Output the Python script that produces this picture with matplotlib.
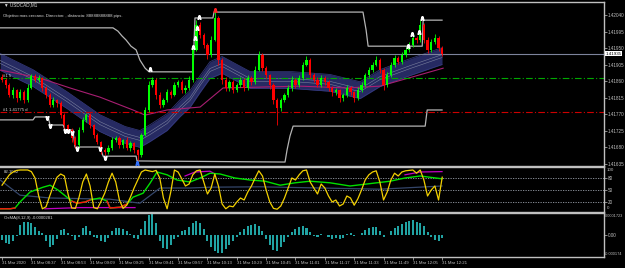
import numpy as np
import matplotlib
matplotlib.use('Agg')
import matplotlib.pyplot as plt
import matplotlib.transforms as mtransforms

plt.rcParams['font.family'] = ['Liberation Sans', 'DejaVu Sans']

# ---------------- DATA ----------------
first_open = 1.41870
close_prices = [
    1.41863, 1.41849, 1.41822, 1.41835, 1.41814, 1.41830, 1.41808, 1.41841, 1.41874, 1.41863,
    1.41868, 1.41841, 1.41822, 1.41795, 1.41808, 1.41800, 1.41767, 1.41740, 1.41726, 1.41705,
    1.41685, 1.41726, 1.41754, 1.41767, 1.41740, 1.41713, 1.41694, 1.41672, 1.41666, 1.41677,
    1.41699, 1.41705, 1.41685, 1.41699, 1.41677, 1.41691, 1.41672, 1.41658, 1.41713, 1.41781,
    1.41849, 1.41863, 1.41822, 1.41795, 1.41808, 1.41830, 1.41822, 1.41849, 1.41857, 1.41835,
    1.41841, 1.41863, 1.41945, 1.42013, 1.41985, 1.41958, 1.41931, 1.41972, 1.42032, 1.41917,
    1.41863, 1.41841, 1.41857, 1.41835, 1.41849, 1.41863, 1.41841, 1.41868, 1.41857, 1.41890,
    1.41931, 1.41895, 1.41876, 1.41849, 1.41808, 1.41786, 1.41808, 1.41822, 1.41841, 1.41863,
    1.41849, 1.41868, 1.41904, 1.41917, 1.41876, 1.41863, 1.41849, 1.41868, 1.41857, 1.41841,
    1.41830, 1.41835, 1.41814, 1.41822, 1.41841, 1.41830, 1.41814, 1.41835, 1.41849, 1.41876,
    1.41890, 1.41904, 1.41917, 1.41890, 1.41849, 1.41876, 1.41904, 1.41923, 1.41912, 1.41931,
    1.41945, 1.41958, 1.41977, 1.41972, 1.42013, 1.41972, 1.41945, 1.41966, 1.41977, 1.41950,
    1.41934]
# wick extensions in points (1e-5)
wick_up = [
    8, 5, 6, 9, 4, 7, 5, 10, 6, 5,
    9, 4, 5, 6, 8, 4, 5, 6, 4, 5,
    4, 9, 7, 5, 6, 4, 5, 3, 6, 8,
    7, 5, 6, 4, 8, 5, 4, 3, 6, 9,
    12, 8, 5, 7, 6, 9, 5, 8, 6, 5,
    7, 10, 9, 14, 8, 6, 5, 11, 16, 6,
    5, 8, 6, 7, 5, 9, 6, 8, 5, 10,
    12, 6, 5, 4, 6, 5, 7, 6, 8, 10,
    5, 8, 9, 11, 5, 6, 7, 9, 5, 6,
    5, 7, 4, 6, 8, 5, 4, 8, 7, 6,
    8, 7, 10, 5, 6, 8, 7, 9, 6, 8,
    7, 9, 10, 6, 14, 5, 8, 9, 12, 6,
    5]
wick_dn = [
    6, 9, 5, 7, 10, 5, 8, 6, 4, 7,
    5, 8, 9, 6, 7, 10, 8, 9, 7, 12,
    8, 5, 6, 7, 8, 9, 6, 10, 7, 5,
    6, 5, 8, 7, 6, 9, 7, 14, 5, 4,
    5, 6, 10, 8, 6, 5, 7, 4, 6, 9,
    7, 5, 6, 4, 8, 9, 10, 5, 4, 12,
    10, 8, 7, 9, 6, 5, 8, 6, 7, 5,
    4, 9, 8, 10, 12, 45, 9, 6, 5, 7,
    8, 6, 5, 4, 9, 7, 6, 5, 8, 9,
    10, 7, 12, 8, 6, 9, 11, 7, 6, 5,
    6, 5, 4, 8, 14, 6, 5, 7, 6, 5,
    6, 5, 4, 7, 5, 9, 8, 6, 5, 9,
    7]
bar_minutes = np.arange(0, 241, 2)   # minutes since 08:21

# moving-average band (centre) and slow MA
band_x = [-1, 16.9, 35.4, 53.4, 67.1, 75.2, 80.7, 90, 97.1, 102.5, 108, 113.4, 120, 127,
          135.2, 157, 178.8, 195.2, 206.1, 222.5, 239.9]
band_mid = [1.41912, 1.41868, 1.41808, 1.41745, 1.41713, 1.41702, 1.41718, 1.41748, 1.41786,
            1.41811, 1.41852, 1.41890, 1.41904, 1.41885, 1.41863, 1.41863, 1.41855, 1.41835,
            1.41868, 1.41898, 1.41928]
band_half = 0.00023
slow_x = [-1, 20.7, 37.1, 53.4, 71.4, 78, 90, 108, 120.5, 162.5, 188.1, 206.1, 240.5]
slow_ma = [1.41890, 1.41868, 1.41841, 1.41816, 1.41781, 1.41767, 1.41781, 1.41789, 1.41841,
           1.41846, 1.41841, 1.41846, 1.41895]

# step (channel) lines
upper_x = [-1, 60.5, 63.2, 65.4, 67.6, 70.3, 73.1, 75.2, 78, 80.2, 104.1, 105.2, 115, 115.6,
           196.8, 198.5, 199.6, 229.1, 229.6, 239.9]
upper_p = [1.42005, 1.42005, 1.41996, 1.41983, 1.41972, 1.41955, 1.41945, 1.41917, 1.41895,
           1.41885, 1.41885, 1.42032, 1.42032, 1.42048, 1.42048, 1.41999, 1.41955, 1.41955,
           1.42026, 1.42026]
lower_x = [-1, 16.9, 18, 25.1, 26.2, 33.3, 34.4, 38.7, 39.8, 53.4, 55.1, 73.1, 73.6, 154.3,
           155.4, 157, 158.7, 230.7, 231.8, 239.9]
lower_p = [1.41754, 1.41754, 1.41762, 1.41762, 1.41740, 1.41740, 1.41726, 1.41726, 1.41680,
           1.41680, 1.41655, 1.41655, 1.41642, 1.41639, 1.41672, 1.41710, 1.41737, 1.41737,
           1.41781, 1.41781]

# swing arrows
top_arrow_x = [80.7, 104.1, 105.2, 106.3, 107.4, 221.4, 223.6, 227.4, 229.1]
top_arrow_p = [1.41890, 1.41950, 1.41975, 1.42002, 1.42032, 1.41953, 1.41985, 1.41991, 1.42029]
red_arrow_x = [116.1]
red_arrow_p = [1.42054]
bot_arrow_x = [24.5, 26.2, 34.4, 36, 38.2, 40.9, 53.4, 56.2]
bot_arrow_p = [1.41759, 1.41737, 1.41726, 1.41724, 1.41718, 1.41675, 1.41675, 1.41650]
blue_arrow_x = [73.6]
blue_arrow_p = [1.41636]

current_price = 1.41935
level_green = 1.41868
level_red = 1.41775
price_ticks = [1.42040, 1.41995, 1.41950, 1.41905, 1.41860, 1.41815, 1.41770, 1.41725,
               1.41680, 1.41635]

# oscillator pane
stoch = [62, 75, 88, 95, 99, 100, 100, 100, 96, 80,
         35, 3, 8, 35, 60, 82, 90, 85, 40, 5,
         4, 32, 70, 90, 60, 6, 3, 22, 42, 70,
         92, 70, 25, 4, 12, 32, 55, 75, 95, 100,
         98, 96, 99, 80, 30, 3, 45, 100, 95, 78,
         60, 65, 88, 98, 100, 70, 40, 55, 90, 60,
         15, 3, 10, 8, 20, 30, 25, 45, 60, 80,
         98, 85, 50, 20, 4, 2, 10, 30, 55, 80,
         75, 88, 98, 100, 70, 55, 40, 65, 55, 35,
         20, 25, 10, 15, 35, 30, 12, 28, 50, 75,
         88, 95, 98, 70, 25, 45, 75, 92, 85, 95,
         98, 99, 100, 92, 100, 75, 35, 50, 60, 25,
         82]
green_x = [-1, 4.4, 7.1, 9.8, 15.3, 22.4, 26.2, 30.5, 35.4, 38.2, 40.9, 45.3, 48, 53.4, 57.3,
           58.9, 64.3, 68.2, 71.4, 76.9, 80.7, 84.5, 90, 95.4, 102.5, 108, 113.4, 118.9, 127,
           135.2, 143.4, 151.6, 159.8, 168, 178.8, 189.7, 200.7, 211.6, 219.7, 228, 239.9]
green_v = [3, 3, 5, 20, 45, 57, 62, 50, 32, 22, 17, 20, 25, 30, 22,
           5, 7, 15, 32, 42, 67, 95, 88, 75, 70, 80, 92, 90, 80,
           75, 72, 62, 68, 72, 68, 60, 66, 72, 80, 85, 78]
red_x = [-1, 4.4, 7.1, np.nan, 38.2, 40.9, 45.3, 48, np.nan, 57.3, 58.9, 64.3, 68.2]
red_v = [3, 3, 5, np.nan, 22, 17, 20, 25, np.nan, 22, 5, 7, 15]
slate_x = [-1, 9.8, 26.2, 58.9, 75.2, 86.2, 102.5, 113.4, 140.7, 173.4, 206.1, 239.9]
slate_v = [75, 37, 30, 27, 17, 55, 55, 57, 58, 55, 52, 60]
mag_x = [23.4, 42.5, 72.5, np.nan, 99.8, 105.2, 113.4, 116.1, np.nan, 219.7, 228, 239.9]
mag_v = [3, 6, 6, np.nan, 85, 95, 97, 90, np.nan, 88, 95, 96]
osc_levels = [80, 50, 20]

# OsMA histogram (units of 1e-5)
osma_e5 = [-3.9, -6.2, -6.9, -4.6, -0.8, 7.7, 10.0, 10.0, 9.2, 6.2,
           3.1, 1.5, -4.6, -9.2, -7.7, -3.1, 3.9, 4.6, 1.5, -0.8,
           -3.9, -1.5, 5.4, 6.9, 3.1, -1.5, -2.3, -4.6, -5.4, -2.3,
           3.1, 5.4, 5.4, 4.6, 3.1, 0.8, -2.3, -3.1, 4.6, 10.8,
           15.4, 16.2, 9.2, -4.6, -10.0, -10.8, -7.7, -3.1, -1.5, 3.1,
           3.9, 6.2, 9.2, 10.8, 9.2, 4.6, -4.6, -9.2, -12.3, -14.6,
           -13.9, -10.8, -7.7, -4.6, -1.5, 2.3, 4.6, 6.9, 7.7, 8.5,
           6.9, 3.1, -3.1, -7.7, -11.6, -12.3, -9.2, -5.4, -1.5, 2.3,
           4.6, 6.2, 6.9, 5.4, 2.3, -0.8, -1.5, 0.8, 0.3, -1.5,
           -3.1, -2.3, -3.1, -2.3, 0.8, 1.5, -0.8, 0.3, 1.5, 3.9,
           5.4, 6.2, 6.2, 3.1, -1.5, 0.3, 3.1, 5.4, 6.9, 8.5,
           10.0, 10.8, 11.6, 10.0, 9.2, 6.9, 2.3, -1.5, -3.9, -4.6,
           -2.81]

time_tick_minutes = list(range(0, 241, 16))
time_labels = ['31 Mar 2020', '31 Mar 08:37', '31 Mar 08:53', '31 Mar 09:09', '31 Mar 09:25',
               '31 Mar 09:41', '31 Mar 09:57', '31 Mar 10:13', '31 Mar 10:29', '31 Mar 10:45',
               '31 Mar 11:01', '31 Mar 11:17', '31 Mar 11:33', '31 Mar 11:49', '31 Mar 12:05',
               '31 Mar 12:21']

# ---------------- FIGURE ----------------
W, H = 625, 268
fig = plt.figure(figsize=(W / 100, H / 100), dpi=100, facecolor='black')


def rect(top, bottom):
    return [0, 1 - bottom / H, 604 / W, (bottom - top) / H]


ax_main = fig.add_axes(rect(2, 166))
ax_osc = fig.add_axes(rect(167, 212))
ax_macd = fig.add_axes(rect(213, 257))
XL = (-1.1, 328.2)
GRAY = '#c0c0c0'
for ax in (ax_main, ax_osc, ax_macd):
    ax.set_facecolor('black')
    ax.set_xlim(*XL)
    ax.spines['left'].set_visible(False)
    for s in ('top', 'right', 'bottom'):
        ax.spines[s].set_color(GRAY)
        ax.spines[s].set_linewidth(1.0)
    ax.yaxis.tick_right()
    ax.tick_params(axis='y', colors=GRAY, labelsize=3.3, length=2, width=0.5, pad=1)
    ax.tick_params(axis='x', bottom=False, labelbottom=False)

# ---- main pane ----
ax = ax_main
ax.set_ylim(1.416282, 1.420755)
bm = np.array(band_mid)
ax.fill_between(band_x, bm - band_half, bm + band_half, color='#262a62', lw=0, zorder=1)
ax.plot(band_x, bm + band_half, color='#363b80', lw=0.5, zorder=1.1)
ax.plot(band_x, bm - band_half, color='#363b80', lw=0.5, zorder=1.1)
ax.plot(band_x, bm + 0.00004, color='#7a809e', lw=0.4, zorder=1.2)
ax.plot(band_x, bm - 0.00004, color='#7a809e', lw=0.4, zorder=1.2)
ax.plot(slow_x, slow_ma, color='#a81e72', lw=0.8, zorder=1.3)

ax.axhline(current_price, color='#7d839c', lw=0.8, zorder=1.5)
ax.axhline(level_green, color='#00a800', lw=0.8, ls=(0, (6, 2, 1, 2)), zorder=1.5)
ax.axhline(level_red, color='#cc0000', lw=0.8, ls=(0, (6, 2, 1, 2)), zorder=1.5)

ax.plot(upper_x, upper_p, color='#b4b4b4', lw=0.9, zorder=2)
ax.plot(lower_x, lower_p, color='#b4b4b4', lw=0.9, zorder=2)

closes = np.array(close_prices)
opens = np.concatenate([[first_open], closes[:-1]])
up = closes >= opens
highs = np.maximum(opens, closes) + np.array(wick_up) * 1e-5
lows = np.minimum(opens, closes) - np.array(wick_dn) * 1e-5
cols = np.where(up, '#00ff00', '#ff0000')
ax.vlines(bar_minutes, lows, highs, colors=cols, lw=0.6, zorder=4)
ax.bar(bar_minutes, np.maximum(np.abs(closes - opens), 0.00002),
       bottom=np.minimum(opens, closes), width=1.2, color=cols, lw=0, zorder=4)

ax.plot(top_arrow_x, np.array(top_arrow_p) + 0.00002, ls='none', marker=r'$\wedge$',
        color='white', ms=2.6, zorder=5)
ax.plot(red_arrow_x, np.array(red_arrow_p), ls='none', marker=r'$\wedge$',
        color='#ff2020', ms=2.6, zorder=5)
ax.plot(bot_arrow_x, np.array(bot_arrow_p) - 0.00001, ls='none', marker=r'$\vee$',
        color='white', ms=2.6, zorder=5)
ax.plot(blue_arrow_x, blue_arrow_p, ls='none', marker=r'$\wedge$',
        color='#3070ff', ms=2.6, zorder=5)

ax.set_yticks(price_ticks)
ax.set_yticklabels([f'{p:.5f}' for p in price_ticks])
trans = mtransforms.blended_transform_factory(ax.transAxes, ax.transData)
ax.text(1.002, current_price, f'{current_price:.5f}', transform=trans, fontsize=3.2,
        color='black', va='center', ha='left',
        bbox=dict(boxstyle='square,pad=0.15', fc='white', ec='white', lw=0), zorder=10,
        clip_on=False)
ax.text(0.005, level_green + 0.00005, '#1 5', transform=trans, fontsize=3.1,
        color='#d8d8d8', va='center')
ax.text(0.005, level_red + 0.00005, '#1 1.41775 d', transform=trans, fontsize=3.1,
        color='#d8d8d8', va='center')

fig.text(4 / W, 1 - 5 / H, '▼ USDCAD,M1', color='#d8d8d8', fontsize=3.3, va='center')
fig.text(3 / W, 1 - 16 / H, 'Objetivo mas cercano. Direccion: , distancia: 88888888888 pips.',
         color='#d8d8d8', fontsize=3.1, va='center')

# ---- oscillator pane ----
ax = ax_osc
ax.set_ylim(-5, 107.5)
for lv in osc_levels:
    ax.axhline(lv, color='#9aa0aa', lw=0.6, ls=(0, (1.5, 1.5)), zorder=1)
ax.plot(slate_x, slate_v, color='#34466a', lw=0.9, zorder=2)
ax.plot(mag_x, mag_v, color='#c000c0', lw=0.9, zorder=2.5)
ax.plot(green_x, green_v, color='#00e000', lw=1.0, zorder=3)
ax.plot(red_x, red_v, color='#ff1010', lw=1.0, zorder=3.2)
ax.plot(bar_minutes, stoch, color='#f2d000', lw=0.9, zorder=4)
ax.set_yticks([80, 50, 20])
ax.set_yticklabels(['80', '50', '20'])
ax.text(1.004, 0.97, '100', transform=ax.transAxes, fontsize=3.2, color=GRAY, va='top')
ax.text(1.004, 0.04, '0', transform=ax.transAxes, fontsize=3.2, color=GRAY, va='bottom')
ax.text(0.007, 0.93, '82.1092', transform=ax.transAxes, fontsize=3.1, color='#d8d8d8', va='top')

# ---- OsMA pane ----
ax = ax_macd
ax.set_ylim(-0.000174, 0.0001723)
ax.bar(bar_minutes, np.array(osma_e5) * 1e-5, width=1.1, color='#21a3a3', lw=0, zorder=2)
ax.set_yticks([0])
ax.set_yticklabels(['0.00'])
ax.text(1.002, 0.97, '0.0001723', transform=ax.transAxes, fontsize=2.8, color=GRAY, va='top')
ax.text(1.002, 0.03, '-0.000174', transform=ax.transAxes, fontsize=2.8, color=GRAY, va='bottom')
ax.text(0.007, 0.93, 'OsMA(8,12,9) -0.0000281', transform=ax.transAxes, fontsize=3.1,
        color='#d8d8d8', va='top')
ax.tick_params(axis='x', bottom=True, labelbottom=True, colors=GRAY, labelsize=3.1,
               length=2, width=0.5, pad=1)
ax.set_xticks(time_tick_minutes)
ax.set_xticklabels(time_labels)
for lbl in ax.get_xticklabels():
    lbl.set_ha('left')

fig.savefig('out.png', dpi=100, facecolor='black')
